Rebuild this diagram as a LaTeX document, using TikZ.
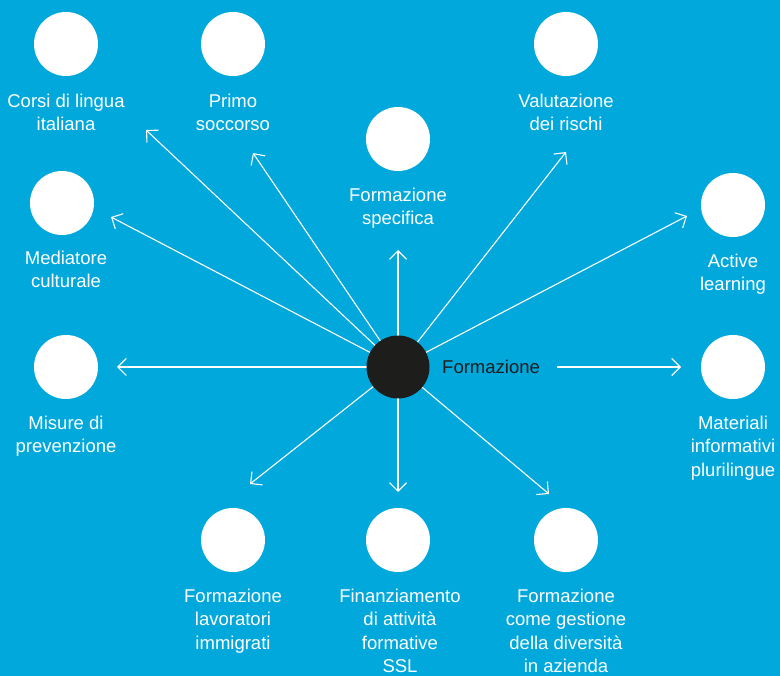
\documentclass[tikz,border=0pt]{standalone}
\usepackage{fontspec}
\setmainfont{Liberation Sans}
\usetikzlibrary{arrows.meta}
\definecolor{bg}{RGB}{0,168,220}
\definecolor{dark}{RGB}{29,29,27}
\begin{document}
\begin{tikzpicture}[x=1pt,y=-1pt,
  bub/.style={circle,fill=white,minimum size=64pt,inner sep=0pt},
  lbl/.style={text=white,font=\fontsize{18.5}{23.5}\selectfont,align=center,anchor=north,inner sep=0pt},
  arr/.style={draw=white,line width=1.1pt,-{Straight Barb[length=8.5pt,width=17pt,line width=1.1pt]}}
]
\fill[bg] (0,0) rectangle (780,676);
\useasboundingbox (0,0) rectangle (780,676);

% bubbles
\node[bub] (b1) at (66,44) {};
\node[bub] (b2) at (233,44) {};
\node[bub] (b3) at (398,139) {};
\node[bub] (b4) at (566,44) {};
\node[bub] (b5) at (62,203) {};
\node[bub] (b6) at (733,205) {};
\node[bub] (b7) at (66,367) {};
\node[bub] (b8) at (733,367) {};
\node[bub] (b9) at (233,540) {};
\node[bub] (b10) at (398,540) {};
\node[bub] (b11) at (566,540) {};

% labels
\node[lbl] (l1) at (66,90.5) {\strut Corsi di lingua\\italiana};
\node[lbl] (l2) at (233,90.5) {\strut Primo\\soccorso};
\node[lbl] (l3) at (398,184.5) {\strut Formazione\\specifica};
\node[lbl] (l4) at (566,90.5) {\strut Valutazione\\dei rischi};
\node[lbl] (l5) at (66,247.5) {\strut Mediatore\\culturale};
\node[lbl] (l6) at (733,250.5) {\strut Active\\learning};
\node[lbl] (l7) at (66,412.5) {\strut Misure di\\prevenzione};
\node[lbl] (l8) at (733,412.5) {\strut Materiali\\informativi\\plurilingue};
\node[lbl] (l9) at (233,585.5) {\strut Formazione\\lavoratori\\immigrati};
\node[lbl] (l10) at (400,585.5) {\strut Finanziamento\\di attività\\formative\\SSL};
\node[lbl] (l11) at (566,585.5) {\strut Formazione\\come gestione\\della diversità\\in azienda};

% arrow tips
\coordinate (c) at (398,367);
\coordinate (t1) at (146,130);
\coordinate (t2) at (253,153);
\coordinate (t3) at (398,250);
\coordinate (t4) at (566,152);
\coordinate (t5) at (111,217);
\coordinate (t6) at (687,216);
\coordinate (t7) at (117,367);
\coordinate (s8) at (557,367);
\coordinate (t8) at (681,367);
\coordinate (t9) at (250,484);
\coordinate (t10) at (398,492);
\coordinate (t11) at (549,494);

\foreach \i in {1,2,3,4,5,6,7,9,10,11} {\draw[arr] (c) -- (t\i);}
\draw[arr] (s8) -- (t8);

\node[circle,fill=dark,minimum size=63pt,inner sep=0pt] (center) at (c) {};
\node[anchor=base west,inner sep=0pt,text=dark,font=\fontsize{18.5}{23.5}\selectfont] (cl) at (442,373.5) {Formazione};
\end{tikzpicture}
\end{document}
